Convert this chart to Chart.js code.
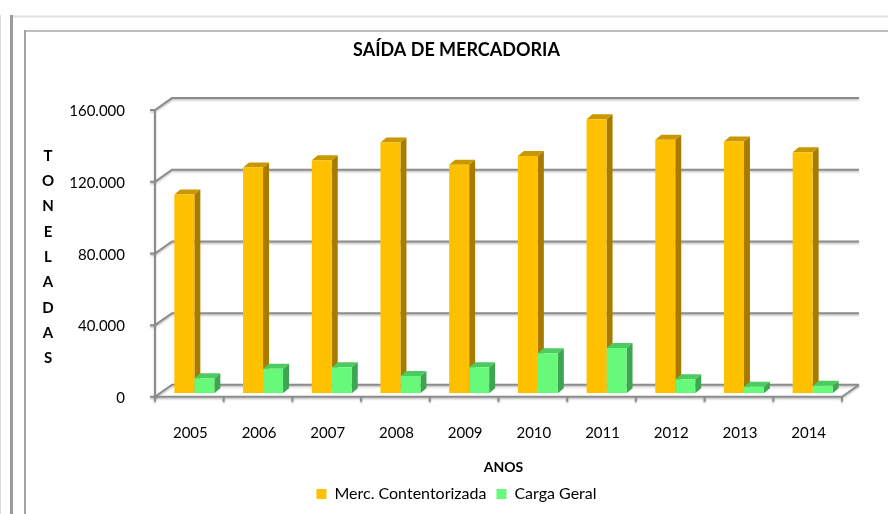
<!DOCTYPE html>
<html>
<head>
<meta charset="utf-8">
<title>Saída de Mercadoria</title>
<script src="https://cdn.jsdelivr.net/npm/chart.js@4"></script>
<style>
  html, body { margin: 0; padding: 0; background: #fff; }
  #wrap { width: 888px; height: 514px; }
</style>
</head>
<body>
<div id="wrap"><canvas id="chart" width="888" height="514"></canvas></div>
<script>
// ===== Data =====
const anos = ['2005', '2006', '2007', '2008', '2009', '2010', '2011', '2012', '2013', '2014'];
const mercContentorizada = [111000, 126000, 130000, 140000, 127500, 132500, 153000, 141500, 140500, 134500];
const cargaGeral = [8400, 13700, 14500, 9700, 14500, 22300, 25300, 7800, 3700, 4200];
const yTicks = [0, 40000, 80000, 120000, 160000];
const yTitleLetters = ['T', 'O', 'N', 'E', 'L', 'A', 'D', 'A', 'S'];

const seriesColors = {
    merc: { front: '#FFC000', side: '#A67B00', top: '#C99700' },
    carga: { front: '#66F97A', side: '#3EA551', top: '#4CCB60' }
};

function formatThousands(v) {
    return String(v).replace(/\B(?=(\d{3})+(?!\d))/g, '.');
}

// ===== 3D look: walls, gridlines, bar sides =====
const FRONT_SHIFT_X = -5;   // front plane vs chart area
const FRONT_SHIFT_Y = 3.5;
const WALL_DX = 17;
const WALL_DY = 12;
const BAR_DX = 6;
const BAR_DY = 5;

const decorPlugin = {
    id: 'decor',
    beforeDraw(chart) {
        const ctx = chart.ctx;
        ctx.save();
        ctx.fillStyle = '#fff';
        ctx.fillRect(0, 0, chart.width, chart.height);

        // outer frame
        ctx.strokeStyle = '#e2e2e2';
        ctx.lineWidth = 2;
        ctx.beginPath(); ctx.moveTo(11, 16.5); ctx.lineTo(888, 16.5); ctx.stroke();
        ctx.strokeStyle = '#9a9a9a';
        ctx.lineWidth = 3;
        ctx.beginPath(); ctx.moveTo(11.5, 15); ctx.lineTo(11.5, 514); ctx.stroke();
        ctx.strokeStyle = '#dcdcdc';
        ctx.lineWidth = 1;
        ctx.beginPath(); ctx.moveTo(0.5, 15); ctx.lineTo(0.5, 514); ctx.stroke();

        // inner frame
        ctx.strokeStyle = '#bdbdbd';
        ctx.lineWidth = 2;
        ctx.beginPath(); ctx.moveTo(25, 31); ctx.lineTo(888, 31); ctx.stroke();
        ctx.strokeStyle = '#a3a3a3';
        ctx.beginPath(); ctx.moveTo(25, 30); ctx.lineTo(25, 514); ctx.stroke();

        // vertical axis title, one letter per line
        ctx.fillStyle = '#000';
        ctx.font = 'bold 15px Lato';
        ctx.textAlign = 'center';
        ctx.textBaseline = 'middle';
        yTitleLetters.forEach((ch, i) => {
            ctx.fillText(ch, 48, 156 + i * 25.3);
        });
        ctx.restore();
    },
    beforeDatasetsDraw(chart) {
        const ctx = chart.ctx;
        const x = chart.scales.x;
        const y = chart.scales.y;
        const xf = x.left + FRONT_SHIFT_X;
        const xfr = x.right + FRONT_SHIFT_X;
        const xb = xf + WALL_DX;
        const xbr = xfr + WALL_DX;
        const y0 = y.getPixelForValue(0) + FRONT_SHIFT_Y;

        ctx.save();
        ctx.strokeStyle = '#8c8c8c';
        ctx.lineWidth = 2;
        ctx.shadowColor = 'rgba(0,0,0,0.25)';
        ctx.shadowOffsetY = 1.5;
        ctx.shadowBlur = 2;

        // back wall gridlines + diagonals + front ticks
        yTicks.forEach(v => {
            const yf = y.getPixelForValue(v) + FRONT_SHIFT_Y;
            const yb = yf - WALL_DY;
            ctx.beginPath();
            ctx.moveTo(xf - 5, yf);
            ctx.lineTo(xf, yf);
            ctx.lineTo(xb, yb);
            ctx.lineTo(xbr, yb);
            ctx.stroke();
        });

        // front vertical axis
        ctx.beginPath();
        ctx.moveTo(xf, y0);
        ctx.lineTo(xf, y.getPixelForValue(yTicks[yTicks.length - 1]) + FRONT_SHIFT_Y);
        ctx.stroke();

        // floor front edge and right diagonal
        ctx.beginPath();
        ctx.moveTo(xf, y0);
        ctx.lineTo(xfr, y0);
        ctx.lineTo(xbr, y0 - WALL_DY);
        ctx.stroke();

        // category ticks
        for (let i = 0; i <= anos.length; i++) {
            const px = x.getPixelForValue(i - 0.5) + FRONT_SHIFT_X;
            ctx.beginPath();
            ctx.moveTo(px, y0);
            ctx.lineTo(px, y0 + 5);
            ctx.stroke();
        }
        ctx.restore();

        // side and top faces of the bars (fronts are drawn by Chart.js)
        ctx.save();
        const keys = ['merc', 'carga'];
        for (let i = 0; i < anos.length; i++) {
            chart.data.datasets.forEach((ds, d) => {
                const bar = chart.getDatasetMeta(d).data[i];
                const c = seriesColors[keys[d]];
                const l = bar.x - bar.width / 2;
                const r = bar.x + bar.width / 2;
                const top = bar.y;
                const base = bar.base;
                ctx.fillStyle = c.side;
                ctx.beginPath();
                ctx.moveTo(r, top);
                ctx.lineTo(r + BAR_DX, top - BAR_DY);
                ctx.lineTo(r + BAR_DX, base - BAR_DY);
                ctx.lineTo(r, base);
                ctx.closePath();
                ctx.fill();
                ctx.fillStyle = c.top;
                ctx.beginPath();
                ctx.moveTo(l, top);
                ctx.lineTo(l + BAR_DX, top - BAR_DY);
                ctx.lineTo(r + BAR_DX, top - BAR_DY);
                ctx.lineTo(r, top);
                ctx.closePath();
                ctx.fill();
            });
        }
        ctx.restore();
    }
};

Chart.defaults.font.family = 'Lato';
Chart.defaults.color = '#000';

const ctx = document.getElementById('chart').getContext('2d');
new Chart(ctx, {
    type: 'bar',
    data: {
        labels: anos,
        datasets: [
            {
                label: 'Merc. Contentorizada',
                data: mercContentorizada,
                backgroundColor: seriesColors.merc.front,
                categoryPercentage: 0.582,
                barPercentage: 1.0
            },
            {
                label: 'Carga Geral',
                data: cargaGeral,
                backgroundColor: seriesColors.carga.front,
                categoryPercentage: 0.582,
                barPercentage: 1.0
            }
        ]
    },
    options: {
        responsive: false,
        animation: false,
        layout: { padding: { left: 66, right: 41, top: 20, bottom: 2 } },
        plugins: {
            title: {
                display: true,
                text: 'SAÍDA DE MERCADORIA',
                font: { size: 18, weight: 'bold' },
                padding: { top: 19, bottom: 46 }
            },
            legend: {
                position: 'bottom',
                labels: {
                    boxWidth: 10,
                    boxHeight: 10,
                    padding: 10,
                    font: { size: 16 }
                }
            },
            tooltip: { enabled: false }
        },
        scales: {
            x: {
                grid: { display: false },
                border: { display: false },
                ticks: { font: { size: 15 }, padding: 23, labelOffset: -4 },
                title: {
                    display: true,
                    text: 'ANOS',
                    font: { size: 14, weight: 'bold' },
                    padding: { top: 0, bottom: 0 }
                },
                afterFit(scale) { scale.height = 82.7; }
            },
            y: {
                min: 0,
                max: 160000,
                grid: { display: false },
                border: { display: false },
                afterBuildTicks(scale) {
                    scale.ticks = yTicks.map(v => ({ value: v }));
                },
                ticks: {
                    font: { size: 15 },
                    padding: 27,
                    labelOffset: 5,
                    callback: v => formatThousands(v)
                },
                afterFit(scale) { scale.width = 94; }
            }
        }
    },
    plugins: [decorPlugin]
});
</script>
</body>
</html>
